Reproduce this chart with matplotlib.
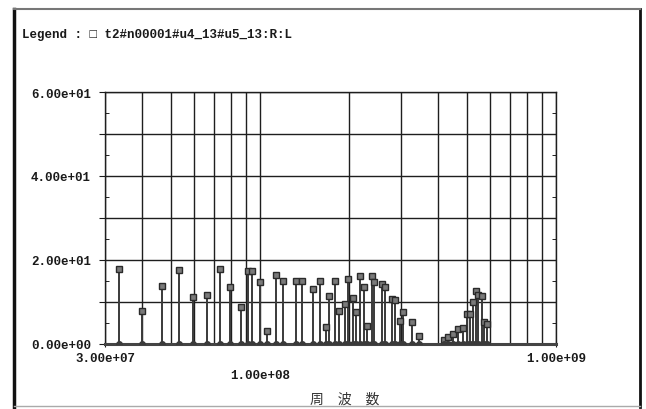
import numpy as np
import matplotlib
matplotlib.use('Agg')
import matplotlib.pyplot as plt
from matplotlib.lines import Line2D

# frequency of each spectral line (Hz) and its level
freq = [3.34e7, 4.00e7, 4.69e7, 5.33e7, 5.96e7, 6.65e7, 7.32e7, 7.93e7, 8.66e7,
        9.14e7, 9.38e7, 1.00e8, 1.06e8, 1.13e8, 1.20e8, 1.32e8, 1.39e8, 1.515e8,
        1.60e8, 1.67e8, 1.716e8, 1.79e8, 1.85e8, 1.94e8, 1.99e8, 2.06e8, 2.12e8,
        2.18e8, 2.24e8, 2.30e8, 2.39e8, 2.43e8, 2.58e8, 2.65e8, 2.80e8, 2.86e8,
        2.97e8, 3.05e8, 3.26e8, 3.45e8,
        4.20e8, 4.33e8, 4.50e8, 4.68e8, 4.87e8, 5.00e8, 5.13e8, 5.26e8, 5.37e8,
        5.47e8, 5.61e8, 5.72e8, 5.83e8]
level = [17.9, 7.8, 13.8, 17.7, 11.1, 11.7, 17.9, 13.5, 8.7,
         17.5, 17.5, 14.7, 3.2, 16.5, 15.1, 14.9, 14.9, 13.1,
         14.9, 4.0, 11.4, 15.1, 7.8, 9.5, 15.5, 10.9, 7.7,
         16.3, 13.5, 4.2, 16.3, 14.7, 14.3, 13.5, 10.7, 10.5,
         5.5, 7.7, 5.2, 1.8,
         0.9, 1.6, 2.4, 3.6, 3.9, 7.1, 7.1, 9.9, 12.7,
         11.7, 11.5, 5.2, 4.8]

xmin, xmax = 3.0e7, 1.0e9
ymin, ymax = 0, 60
x_major = [3.0e7, 1.0e9]
x_major_labels = ['3.00e+07', '1.00e+09']
x_minor = [4e7, 5e7, 6e7, 7e7, 8e7, 9e7, 1e8, 2e8, 3e8, 4e8, 5e8, 6e8, 7e8, 8e8, 9e8]
x_minor_labels = ['' if v != 1e8 else '1.00e+08' for v in x_minor]
y_major = [0, 10, 20, 30, 40, 50, 60]
y_major_labels = ['0.00e+00', '', '2.00e+01', '', '4.00e+01', '', '6.00e+01']
y_minor = [5, 15, 25, 35, 45, 55]

legend_text = 'Legend : \u25a1 t2#n00001#u4_13#u5_13:R:L'
xlabel_text = '周　波　数'

mono = ['Liberation Mono', 'DejaVu Sans Mono']

fig = plt.figure(figsize=(6.46, 4.10), dpi=100)
ax = fig.add_axes([105 / 646, 1 - 345 / 410, 451 / 646, 252 / 410])

ax.vlines(freq, 0, level, color='#3a3a3a', lw=1.4, zorder=3)
ax.plot(freq, level, 's', ms=5, mfc='#7a7a7a', mec='#2a2a2a', mew=1.0, zorder=4)
ax.plot(freq, np.zeros(len(freq)), 'o', ms=4, color='#3a3a3a', zorder=4)

ax.set_xscale('log')
ax.set_xlim(xmin, xmax)
ax.set_ylim(ymin, ymax)

ax.set_xticks(x_major, x_major_labels)
ax.set_xticks(x_minor, x_minor_labels, minor=True)
ax.set_yticks(y_major, y_major_labels)
ax.set_yticks(y_minor, minor=True)

ax.grid(which='both', axis='x', color='#1e1e1e', lw=1.0)
ax.grid(which='major', axis='y', color='#1e1e1e', lw=1.0)
ax.set_axisbelow(True)

ax.tick_params(axis='x', which='major', length=4, direction='inout', pad=4,
               labelsize=9, colors='#1a1a1a')
ax.tick_params(axis='x', which='minor', length=0, pad=18, labelsize=9,
               colors='#1a1a1a')
ax.tick_params(axis='y', which='major', length=4, direction='out', pad=6,
               labelsize=9, colors='#1a1a1a')
ax.tick_params(axis='y', which='minor', length=3, direction='in',
               left=True, right=True)
for lab in ax.get_xticklabels(which='both') + ax.get_yticklabels():
    lab.set_family(mono)
    lab.set_weight('bold')

for s in ax.spines.values():
    s.set_color('#1e1e1e')
    s.set_linewidth(1.0)
ax.spines['bottom'].set_linewidth(2.2)
ax.spines['bottom'].set_color('#444444')

ax.set_xlabel(xlabel_text, family=['Noto Sans CJK JP', 'DejaVu Sans'],
              fontsize=10, color='#333333')
ax.xaxis.set_label_coords((345 - 105) / 451, -0.19)

fig.text(22 / 646, 1 - 35 / 410, legend_text, family=mono, weight='bold',
         fontsize=9, va='center', ha='left', color='#1a1a1a')

# outer frame of the printed chart
fig.add_artist(Line2D([14 / 646, 14 / 646], [2 / 410, 1 - 10 / 410],
                      transform=fig.transFigure, color='#111111', lw=2.5))
fig.add_artist(Line2D([640 / 646, 640 / 646], [2 / 410, 1 - 10 / 410],
                      transform=fig.transFigure, color='#111111', lw=2.0))
fig.add_artist(Line2D([14 / 646, 640 / 646], [1 - 10 / 410, 1 - 10 / 410],
                      transform=fig.transFigure, color='#777777', lw=1.5))
fig.add_artist(Line2D([14 / 646, 640 / 646], [3 / 410, 3 / 410],
                      transform=fig.transFigure, color='#aaaaaa', lw=1.0))

fig.savefig('out.png', dpi=100)
